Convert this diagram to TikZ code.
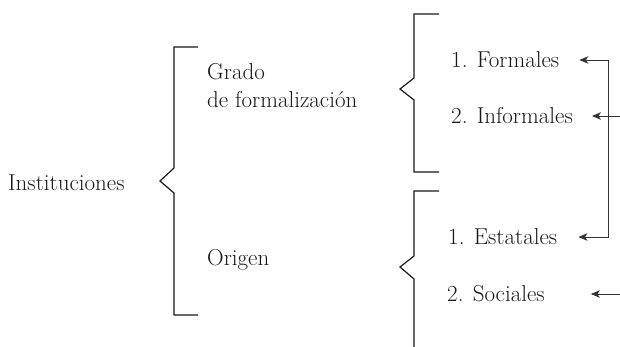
\documentclass[tikz,border=0pt]{standalone}
\usepackage{tikz}
\usetikzlibrary{arrows.meta,positioning}

\begin{document}
\begin{tikzpicture}[x=1pt,y=-1pt,>={Stealth[length=9pt,width=7.5pt,inset=2.5pt]},
every node/.style={inner sep=0pt, anchor=west,
    font=\fontsize{23}{28}\selectfont, text=black!90},
brace/.style={line width=1.2pt, black!90},
link/.style={line width=0.9pt, black!80}]
\useasboundingbox (0,0) rectangle (620,347);

\node (inst) at (8,183) {Instituciones};
\node (grado) [align=left] at (207,86) {Grado\\de formalizaci\'on};
\node (origen) at (207,260) {Origen};
\node (f1) at (451,60) {1. Formales};
\node (f2) at (451,116) {2. Informales};
\node (e1) at (448,237) {1. Estatales};
\node (e2) at (447,294) {2. Sociales};

% brackets
\draw[brace] (198,47) -- (174,47) -- (174,168) -- (160,181) -- (174,193) -- (174,315) -- (198,315);
\draw[brace] (439,14) -- (414,14) -- (414,78) -- (400,89) -- (414,100) -- (414,172) -- (439,172);
\draw[brace] (439,191) -- (414,191) -- (414,256) -- (400,267) -- (414,279) -- (414,350);

% arrows
\coordinate (rail) at (608,0);
\coordinate (edge) at (620,0);
\draw[link,<->] ([xshift=20pt]f1.east) -- (rail |- f1) -- (rail |- e1) -- ([xshift=21pt]e1.east);
\draw[link,->] (edge |- f2) -- ([xshift=19pt]f2.east);
\draw[link,->] (edge |- e2) -- ([xshift=46pt]e2.east);
\end{tikzpicture}
\end{document}
